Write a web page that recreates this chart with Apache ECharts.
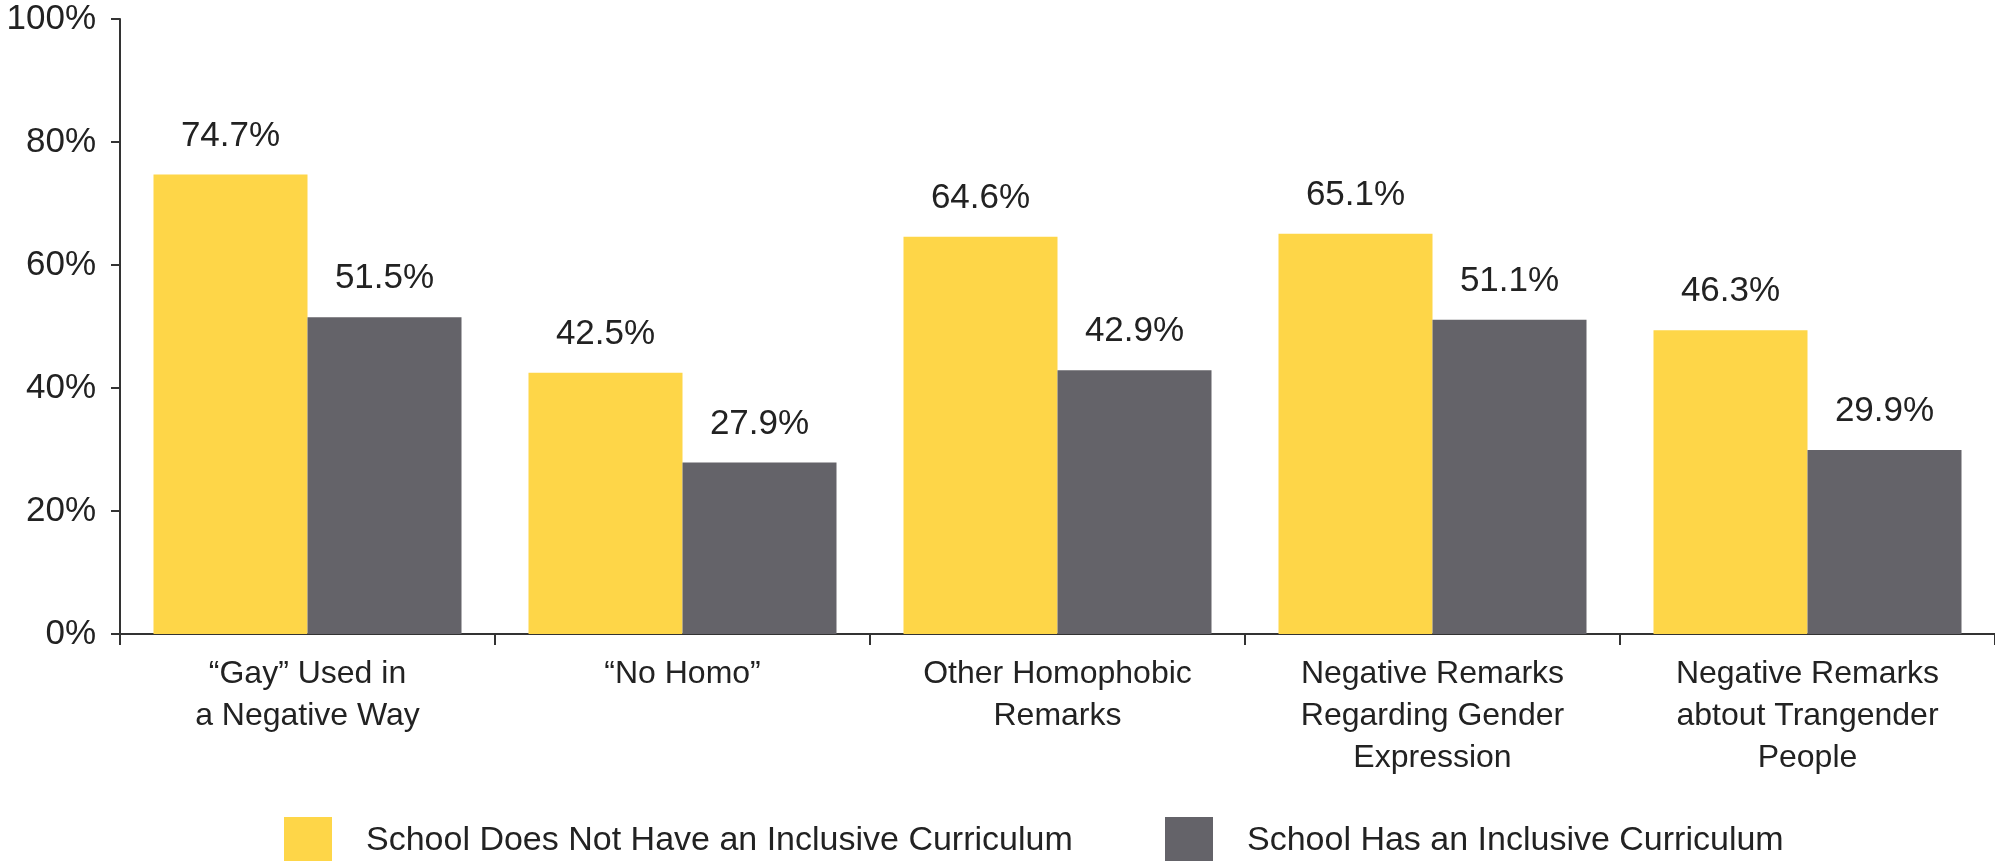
<!DOCTYPE html>
<html>
<head>
<meta charset="utf-8">
<script src="https://cdn.jsdelivr.net/npm/echarts@6/dist/echarts.min.js"></script>
<style>
html,body{margin:0;padding:0;background:#fff;}
#chart{width:1995px;height:861px;}
</style>
</head>
<body>
<div id="chart"></div>
<script>
const categories = [
  "\u201CGay\u201D Used in\na Negative Way",
  "\u201CNo Homo\u201D",
  "Other Homophobic\nRemarks",
  "Negative Remarks\nRegarding Gender\nExpression",
  "Negative Remarks\nabtout Trangender\nPeople"
];
const seriesNames = ["School Does Not Have an Inclusive Curriculum", "School Has an Inclusive Curriculum"];
// bar heights as drawn in the reference
const notInclusive = [74.7, 42.5, 64.6, 65.1, 49.4];
const inclusive = [51.5, 27.9, 42.9, 51.1, 29.9];
// value labels as printed in the reference
const notInclusiveLabels = ["74.7%", "42.5%", "64.6%", "65.1%", "46.3%"];
const inclusiveLabels = ["51.5%", "27.9%", "42.9%", "51.1%", "29.9%"];
const yTicks = [0, 20, 40, 60, 80, 100];

const FONT = "Liberation Sans";
const TXT = "#222";
const YELLOW = "#FED648";
const GRAY = "#646369";

const chart = echarts.init(document.getElementById('chart'));
chart.setOption({
  animation: false,
  backgroundColor: "#fff",
  textStyle: { fontFamily: FONT, color: TXT },
  grid: { left: 120, right: -1, top: 19, bottom: 227, containLabel: false },
  legend: [
    { data: [seriesNames[0]], left: 284, top: 817, padding: 0, itemWidth: 48, itemHeight: 48, itemGap: 0,
      icon: 'rect', textStyle: { fontFamily: FONT, fontSize: 34, color: TXT, padding: [0, 0, 0, 29] } },
    { data: [seriesNames[1]], left: 1165, top: 817, padding: 0, itemWidth: 48, itemHeight: 48, itemGap: 0,
      icon: 'rect', textStyle: { fontFamily: FONT, fontSize: 34, color: TXT, padding: [0, 0, 0, 29] } }
  ],
  xAxis: {
    type: 'category',
    data: categories,
    boundaryGap: true,
    axisLine: { lineStyle: { color: "#333", width: 2 } },
    axisTick: { show: true, length: 11, lineStyle: { color: "#333", width: 2 } },
    axisLabel: { fontFamily: FONT, fontSize: 32, color: TXT, lineHeight: 42, margin: 19, interval: 0 }
  },
  yAxis: {
    type: 'value',
    min: 0, max: 100, interval: 20,
    axisLine: { show: true, lineStyle: { color: "#333", width: 2 } },
    axisTick: { show: true, length: 9, lineStyle: { color: "#333", width: 2 } },
    splitLine: { show: false },
    axisLabel: {
      fontFamily: FONT, fontSize: 35, color: TXT, margin: 24,
      formatter: v => yTicks.includes(v) ? v + "%" : ""
    }
  },
  series: [
    {
      name: seriesNames[0], type: 'bar', data: notInclusive,
      barWidth: 154, barGap: '0%',
      itemStyle: { color: YELLOW },
      label: { show: true, position: 'top', distance: 21, fontFamily: FONT, fontSize: 35, color: TXT,
        formatter: p => notInclusiveLabels[p.dataIndex] }
    },
    {
      name: seriesNames[1], type: 'bar', data: inclusive,
      barWidth: 154, barGap: '0%',
      itemStyle: { color: GRAY },
      label: { show: true, position: 'top', distance: 21, fontFamily: FONT, fontSize: 35, color: TXT,
        formatter: p => inclusiveLabels[p.dataIndex] }
    }
  ]
});
</script>
</body>
</html>
